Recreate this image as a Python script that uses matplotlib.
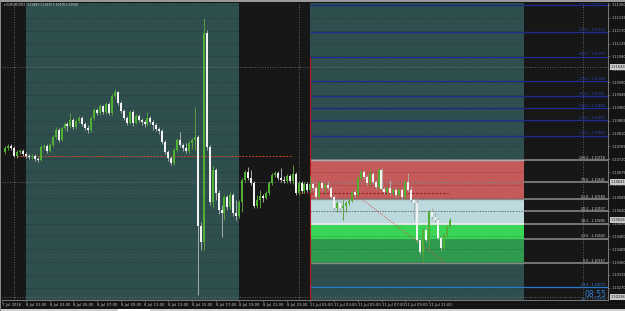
import matplotlib
matplotlib.use("Agg")
import matplotlib.pyplot as plt
from matplotlib.patches import Rectangle
import matplotlib.transforms as mtransforms

# ---------------- data (EURUSD M15, prices as pips above 1.10000) ----------------
first_bar_hour = -1.75   # hours relative to 8 Jul 01:00 (server time, weekend gap removed)
bar_hours = 0.25

open_pips = [74.6, 76.0, 76.7, 76.0, 73.2, 74.6, 74.9, 73.9, 73.2, 72.8,
             73.2, 72.1, 71.8, 76.3, 76.7, 74.9, 77.0, 79.8, 82.3, 78.8,
             83.0, 84.4, 83.7, 85.8, 83.3, 85.4, 86.5, 84.4, 83.0, 82.3,
             86.5, 89.3, 88.2, 90.7, 88.6, 91.4, 88.2, 94.2, 95.6, 91.7,
             88.9, 86.5, 84.7, 88.6, 84.7, 87.2, 85.8, 85.1, 84.4, 86.5,
             85.1, 84.0, 82.6, 81.9, 78.1, 74.6, 72.5, 70.7, 75.3, 78.8,
             77.0, 76.0, 74.9, 77.7, 78.8, 79.8, 48.7, 43.0, 116.2, 76.3,
             57.0, 68.3, 60.2, 54.3, 53.2, 58.8, 55.3, 59.5, 53.2, 52.2,
             57.0, 64.8, 67.6, 65.5, 63.7, 55.7, 57.8, 59.2, 58.5, 60.2,
             63.7, 66.5, 67.2, 65.5, 64.8, 64.4, 66.2, 64.4, 66.9, 60.2,
             63.7, 60.9, 63.4, 61.3, 63.4, 62.0, 58.8, 63.7, 62.0, 63.0,
             62.0, 58.8, 55.0, 56.7, 55.0, 55.7, 56.7, 57.4, 60.6, 59.5,
             65.5, 67.6, 65.8, 63.7, 66.9, 64.1, 62.3, 68.3, 61.6, 60.6,
             61.9, 60.2, 61.3, 59.5, 61.3, 58.8, 64.1, 61.3, 57.8, 56.7,
             43.8, 39.6, 47.3, 43.8, 53.6, 51.8, 50.8, 44.5, 41.0, 45.5,
             48.3]
high_pips = [76.7, 77.4, 77.4, 76.7, 75.3, 75.6, 75.6, 74.6, 73.9, 73.9,
             73.9, 72.8, 77.0, 77.4, 77.4, 77.7, 80.5, 83.3, 83.0, 83.7,
             85.1, 84.9, 88.2, 86.5, 86.1, 87.2, 87.2, 85.1, 84.0, 87.2,
             90.0, 90.0, 91.4, 91.0, 92.1, 92.1, 94.9, 96.6, 95.9, 92.4,
             89.6, 87.2, 89.3, 89.3, 87.9, 87.9, 86.5, 85.8, 88.6, 87.2,
             85.8, 84.7, 83.3, 82.6, 78.8, 75.3, 73.2, 76.0, 79.5, 81.6,
             77.7, 77.7, 78.4, 79.5, 90.3, 80.5, 50.0, 121.5, 117.3, 77.0,
             69.7, 69.0, 61.3, 56.0, 59.5, 59.5, 60.6, 60.2, 57.8, 57.8,
             65.5, 68.3, 69.3, 68.3, 64.4, 59.5, 61.3, 59.9, 60.9, 64.4,
             67.2, 67.9, 67.9, 69.0, 66.2, 66.9, 66.9, 70.0, 67.6, 64.4,
             64.4, 64.1, 64.1, 66.5, 64.1, 62.7, 64.4, 64.4, 63.7, 64.4,
             62.7, 59.5, 57.4, 57.4, 57.8, 57.4, 58.1, 61.3, 61.3, 66.2,
             68.3, 68.3, 66.5, 68.3, 67.6, 64.8, 69.0, 69.0, 62.3, 62.7,
             64.8, 61.9, 61.9, 61.9, 61.9, 64.8, 67.2, 62.7, 58.5, 58.5,
             44.5, 47.9, 48.7, 54.3, 55.0, 53.2, 51.5, 45.2, 46.2, 49.0,
             51.5]
low_pips = [73.9, 75.3, 75.3, 72.8, 72.5, 73.9, 73.2, 72.5, 72.1, 72.1,
            71.4, 71.1, 71.4, 75.6, 74.2, 74.6, 76.3, 79.1, 78.1, 78.4,
            82.3, 81.9, 83.0, 82.6, 82.6, 84.7, 83.7, 82.3, 81.2, 81.6,
            85.8, 87.5, 87.5, 87.9, 87.9, 87.5, 87.5, 93.5, 91.0, 88.2,
            85.8, 84.0, 84.4, 83.7, 84.4, 85.1, 84.0, 83.3, 83.7, 84.4,
            82.3, 81.9, 80.9, 77.4, 73.9, 71.4, 70.0, 70.0, 74.6, 76.3,
            74.9, 74.2, 74.2, 75.6, 75.3, 24.5, 40.3, 40.3, 75.3, 56.0,
            55.3, 57.8, 52.9, 44.8, 50.8, 54.3, 54.6, 52.2, 50.8, 51.5,
            53.6, 64.1, 64.8, 63.0, 55.0, 55.0, 55.0, 57.1, 58.1, 59.5,
            63.0, 65.8, 64.8, 64.1, 63.7, 63.7, 63.7, 63.4, 59.5, 59.5,
            60.2, 60.2, 60.6, 60.2, 61.3, 58.1, 58.5, 61.3, 59.9, 61.3,
            58.1, 54.3, 53.6, 53.6, 50.8, 53.6, 56.0, 57.1, 58.8, 58.8,
            64.8, 65.1, 63.0, 63.0, 63.4, 61.6, 61.6, 60.9, 59.9, 59.9,
            59.5, 59.5, 58.8, 59.2, 58.1, 58.1, 60.6, 57.1, 50.8, 43.1,
            38.9, 36.1, 43.1, 40.3, 51.1, 50.1, 43.8, 40.3, 40.3, 44.8,
            47.6]
close_pips = [76.0, 76.7, 76.0, 73.2, 74.6, 74.9, 73.9, 73.2, 72.8, 73.2,
              72.1, 71.8, 76.3, 76.7, 74.9, 77.0, 79.8, 82.3, 78.8, 83.0,
              84.4, 83.7, 85.8, 83.3, 85.4, 86.5, 84.4, 83.0, 82.3, 86.5,
              89.3, 88.2, 90.7, 88.6, 91.4, 88.2, 94.2, 95.6, 91.7, 88.9,
              86.5, 84.7, 88.6, 84.7, 87.2, 85.8, 85.1, 84.4, 86.5, 85.1,
              84.0, 82.6, 81.9, 78.1, 74.6, 72.5, 70.7, 75.3, 78.8, 77.0,
              76.0, 74.9, 77.7, 78.8, 79.8, 48.7, 43.0, 116.2, 76.3, 57.0,
              68.3, 60.2, 54.3, 53.2, 58.8, 55.3, 59.5, 53.2, 52.2, 57.0,
              64.8, 67.6, 65.5, 63.7, 55.7, 57.8, 59.2, 58.5, 60.2, 63.7,
              66.5, 67.2, 65.5, 64.8, 64.4, 66.2, 64.4, 66.9, 60.2, 63.7,
              60.9, 63.4, 61.3, 63.4, 62.0, 58.8, 63.7, 62.0, 63.0, 62.0,
              58.8, 55.0, 56.7, 55.0, 55.7, 56.7, 57.4, 60.6, 59.5, 65.5,
              67.6, 65.8, 63.7, 66.9, 64.1, 62.3, 68.3, 61.6, 60.6, 61.9,
              60.2, 61.3, 59.5, 61.3, 58.8, 64.1, 61.3, 57.8, 56.7, 43.8,
              39.6, 47.3, 43.8, 53.6, 51.8, 50.8, 44.5, 41.0, 45.5, 48.3,
              50.8]

sessions = [(0, 18), (24, 42)]          # trading-session boxes (hours)

time_hours = [-2, 0, 2, 4, 6, 8, 10, 12, 14, 16, 18, 20, 22, 24, 26, 28, 30, 32, 34]
time_labels = ["7 Jul 2016", "8 Jul 01:00", "8 Jul 03:00", "8 Jul 05:00", "8 Jul 07:00",
               "8 Jul 09:00", "8 Jul 11:00", "8 Jul 13:00", "8 Jul 15:00", "8 Jul 17:00",
               "8 Jul 19:00", "8 Jul 21:00", "8 Jul 23:00", "11 Jul 01:00", "11 Jul 03:00",
               "11 Jul 05:00", "11 Jul 07:00", "11 Jul 09:00", "11 Jul 11:00"]

price_ticks = [1.11260, 1.11215, 1.11170, 1.11125, 1.11080, 1.11035, 1.10990, 1.10945,
               1.10900, 1.10855, 1.10810, 1.10765, 1.10720, 1.10675, 1.10630, 1.10585,
               1.10540, 1.10495, 1.10450, 1.10405, 1.10360, 1.10315, 1.10270]

grid_prices = [1.11043, 1.10641, 1.10238]
grid_hours = [-1, 23, 47]

fib_start_hour, fib_end_hour = 24.0, 35.4
fib_high, fib_low = 1.10718, 1.10357
fib_levels = [-38.2, -23.6, 0.0, 23.6, 38.2, 50.0, 61.8, 78.6, 100.0,
              123.6, 138.2, 150.0, 161.8, 176.4, 200.0, 223.6, 250.0]
zones = [(61.8, 100.0, '#c45a5a'), (38.2, 61.8, '#bcdadd'),
         (23.6, 38.2, '#3ad457'), (0.0, 23.6, '#2f9a4f')]

prev_line = (1.10732, -0.75, 22.5)      # orange dashed line
mon_line = (1.10602, 23.0, 35.6)        # dark red dashed line
vline_hour, vline_top = 24.0, 1.11078

# ---------------- figure ----------------
W, H = 625, 311
fig = plt.figure(figsize=(W / 100, H / 100), dpi=100)
fig.patch.set_facecolor('#131313')
L_, R_, T_, B_ = 2, 608, 3, 300
ax = fig.add_axes([L_ / W, 1 - B_ / H, (R_ - L_) / W, (B_ - T_) / H])
ax.set_facecolor('#171717')
px_per_hour = 11.85
ax.set_xlim((L_ - 26) / px_per_hour, (R_ - 26) / px_per_hour)
ax.set_ylim(1.102275, 1.112670)

# window borders
fig.add_artist(Rectangle((0, 1 - 1.5 / H), 1, 1.5 / H, transform=fig.transFigure, color='#9a9a9a', lw=0))
fig.add_artist(Rectangle((0, 0), 1, 2.2 / H, transform=fig.transFigure, color='#cfcfcf', lw=0))
fig.add_artist(Rectangle((118 / W, 0), 32 / W, 2.2 / H, transform=fig.transFigure, color='#ffffff', lw=0))
fig.add_artist(Rectangle((0, 0), 1.2 / W, 1, transform=fig.transFigure, color='#8a8a8a', lw=0))

# sessions
for s0, s1 in sessions:
    ax.axvspan(s0, s1, color='#2f4f4f', lw=0, zorder=0.5)

# fib extension / main lines
rng = fib_high - fib_low
xr = ax.get_xlim()[1]
label_x = (605 - 26) / px_per_hour
for lv in fib_levels:
    p = fib_low + rng * lv / 100.0
    if lv > 100:
        col, tcol, lw, ls = '#1d2b92', '#2b44c0', 0.9, '-'
    elif lv < 0:
        col, tcol, lw, ls = '#2a78cc', '#2f86e0', 0.9, '-'
    else:
        col, tcol, lw, ls = '#8e8e8e', '#d8d8d8', 1.1, '-'
    ax.hlines(p, fib_start_hour, xr, colors=col, lw=lw, linestyles=ls, zorder=1)
    ax.text(label_x, p + 0.000012, f"{lv:.1f} - {p:.5f}", color=tcol, fontsize=2.3,
            ha='right', va='bottom', zorder=8, clip_on=True)

# fib zones
for a, b, c in zones:
    pa = fib_low + rng * a / 100.0
    pb = fib_low + rng * b / 100.0
    ax.add_patch(Rectangle((fib_start_hour, pa), sessions[1][1] - fib_start_hour, pb - pa,
                           facecolor=c, edgecolor='none', zorder=2))

# dotted texture lines inside session boxes
for s0, s1 in sessions:
    ax.hlines(price_ticks, s0, s1, colors='#000000', alpha=0.35, lw=0.6,
              linestyles=(0, (1, 1.6)), zorder=2.5)

# boundary lines over zones
for lv, col, lw, ls in [(100.0, '#b0b0b0', 1.0, '-'), (78.6, '#9a9a9a', 0.8, (0, (1, 1.5))),
                        (61.8, '#8a8a8a', 1.0, '-'), (50.0, '#707070', 0.8, (0, (1, 1.5))),
                        (38.2, '#ececec', 1.3, '-'), (0.0, '#8a8a8a', 1.0, '-')]:
    p = fib_low + rng * lv / 100.0
    ax.hlines(p, fib_start_hour, sessions[1][1], colors=col, lw=lw, linestyles=ls, zorder=3)

# main grid
ax.hlines(grid_prices, ax.get_xlim()[0], xr, colors='#6c6c6c', lw=0.6,
          linestyles=(0, (1.2, 1.8)), zorder=3)
ax.vlines(grid_hours, *ax.get_ylim(), colors='#6c6c6c', lw=0.6,
          linestyles=(0, (1.2, 1.8)), zorder=3)

# other objects
ax.hlines(prev_line[0], prev_line[1], prev_line[2], colors='#cf4a1c', lw=0.7,
          linestyles=(0, (2, 1.5)), zorder=4)
ax.hlines(mon_line[0], mon_line[1], mon_line[2], colors='#8c1d1d', lw=0.8,
          linestyles=(0, (2, 1.5)), zorder=4)
ax.plot([fib_start_hour, fib_end_hour], [fib_high, fib_low], color='#e04848', lw=0.7,
        ls=(0, (1, 1.5)), zorder=4)
ax.vlines(vline_hour, ax.get_ylim()[0], vline_top, colors='#b81818', lw=0.8, zorder=4)

# candles
n = min(len(open_pips), len(high_pips), len(low_pips), len(close_pips))
bw = 2.0 / px_per_hour
for i in range(n):
    x = first_bar_hour + i * bar_hours
    o = 1.1 + open_pips[i] / 1e4
    h = 1.1 + high_pips[i] / 1e4
    l = 1.1 + low_pips[i] / 1e4
    c = 1.1 + close_pips[i] / 1e4
    up = c >= o
    wick = '#5f9c3d' if up else '#a9a9a9'
    body = '#4fb034' if up else '#f2f2f2'
    ax.vlines(x, l, h, colors=wick, lw=0.7, zorder=5)
    lo_b, hi_b = min(o, c), max(o, c)
    if hi_b - lo_b < 0.000008:
        hi_b = lo_b + 0.000008
    ax.add_patch(Rectangle((x - bw / 2, lo_b), bw, hi_b - lo_b, facecolor=body,
                           edgecolor='none', zorder=6))

# axes / ticks
for sp in ['top', 'left']:
    ax.spines[sp].set_visible(False)
for sp in ['right', 'bottom']:
    ax.spines[sp].set_color('#7a7a7a')
    ax.spines[sp].set_linewidth(0.7)
ax.yaxis.tick_right()
ax.set_yticks(price_ticks)
ax.set_yticklabels([f"{v:.5f}" for v in price_ticks])
ax.tick_params(axis='y', colors='#7a7a7a', labelcolor='#c4c4c4', labelsize=2.5,
               length=1.5, width=0.5, pad=1.2)
ax.set_xticks(time_hours)
ax.set_xticklabels(time_labels, ha='left')
ax.tick_params(axis='x', colors='#7a7a7a', labelcolor='#c4c4c4', labelsize=2.7,
               length=1.5, width=0.5, pad=1.0)

# highlighted price labels on the axis
trans = mtransforms.blended_transform_factory(ax.transAxes, ax.transData)
last_close = 1.1 + close_pips[n - 1] / 1e4
for p in grid_prices[:2] + [last_close] + grid_prices[2:]:
    ax.text(1.004, p, f"{p:.5f}", transform=trans, fontsize=2.5, color='#1a1a1a',
            ha='left', va='center', clip_on=False, zorder=10,
            bbox=dict(boxstyle='square,pad=0.25', fc='#c8c8c8', ec='none'))

# header text
ax.text(0.003, 0.993, "\u25be EURUSD,M15  %.5f %.5f %.5f %.5f" % (
    1.1 + open_pips[n - 1] / 1e4, 1.1 + high_pips[n - 1] / 1e4,
    1.1 + low_pips[n - 1] / 1e4, last_close),
    transform=ax.transAxes, fontsize=2.1, color='#cfcfcf', ha='left', va='center', zorder=10)

# candle timer
ax.text((606 - 26) / px_per_hour, 1.1 + 24.6 / 1e4, "08:55", color='#2f82d8', fontsize=5.5,
        ha='right', va='center', zorder=10)

fig.savefig("out.png", dpi=100, facecolor=fig.get_facecolor())
